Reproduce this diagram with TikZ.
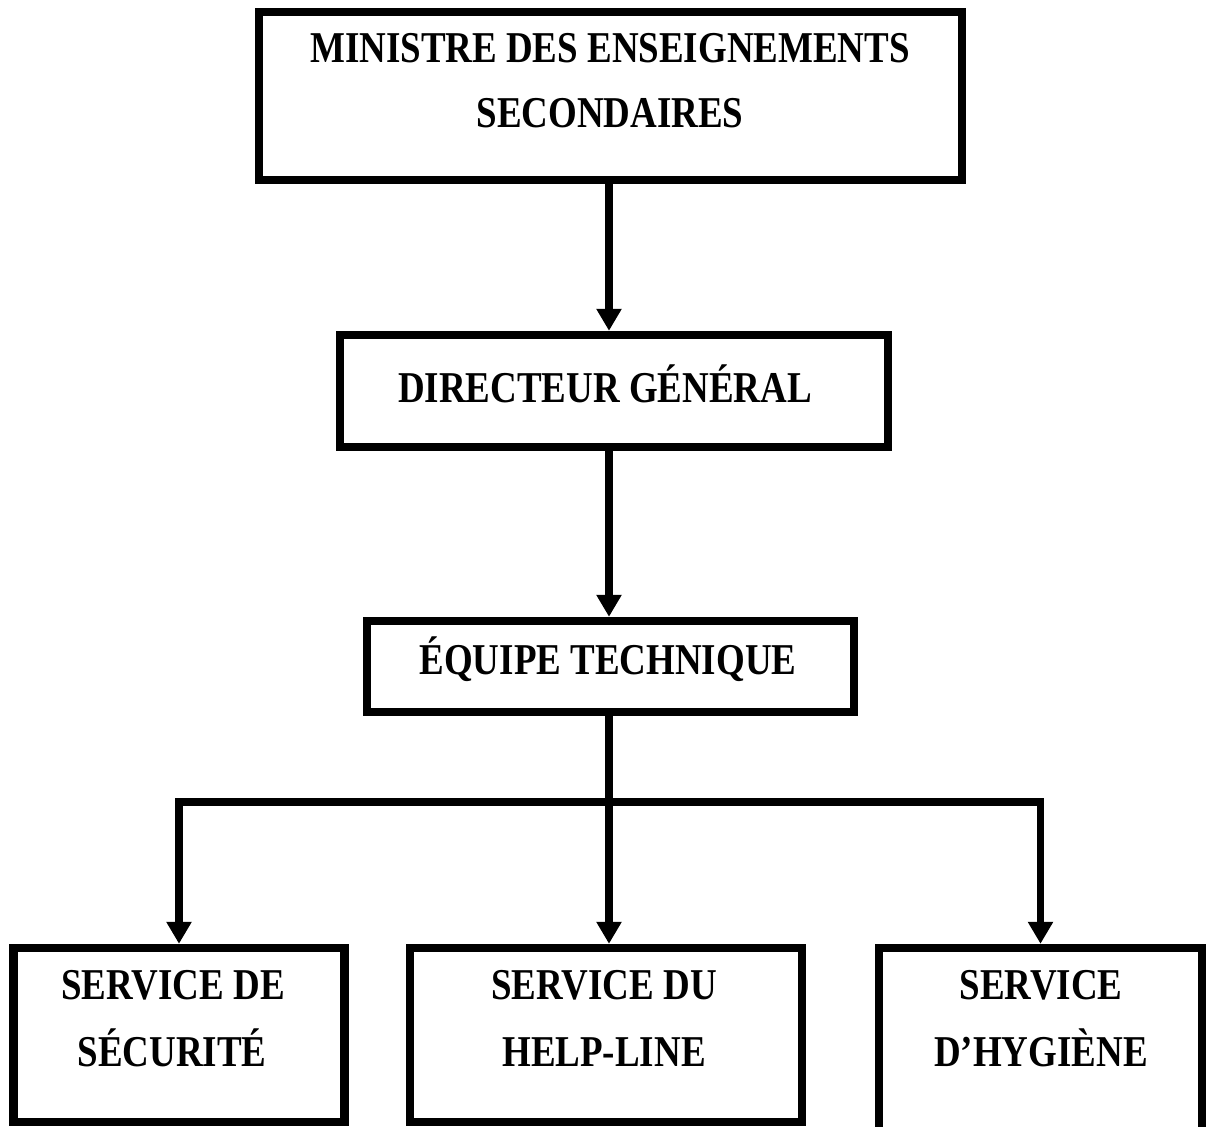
\documentclass[tikz,border=0pt]{standalone}
\usepackage{fontspec}
\setmainfont{Liberation Serif}
\newfontfamily\boxfont[FakeStretch=0.84]{Liberation Serif}
\usetikzlibrary{arrows.meta}
\begin{document}
\begin{tikzpicture}[x=0.5pt,y=-0.5pt,
  box/.style={draw=black, line width=4.2pt, inner sep=0pt, fill=none},
  conn/.style={draw=black, line width=3.6pt},
  tip/.style={-{Triangle[width=12pt,length=11pt]}},
  txt/.style={font=\boxfont\bfseries\fontsize{22}{26}\selectfont, inner sep=0pt, anchor=base}]
\useasboundingbox (0,0) rectangle (1206,1126);
\clip (0,0) rectangle (1206,1126);
% boxes
\node[box, minimum width=351.5pt, minimum height=84pt] (top) at (610.5,96) {};
\node[box, minimum width=274pt, minimum height=56pt] (dg) at (614,391) {};
\node[box, minimum width=243.5pt, minimum height=45.5pt] (et) at (610.5,666.5) {};
\node[box, minimum width=165.5pt, minimum height=87pt] (left) at (179,1035) {};
\node[box, minimum width=196pt, minimum height=87pt] (mid) at (606,1035) {};
\node[box, minimum width=161.5pt, minimum height=117pt] (right) at (1040.5,1065) {};
% texts
\node[txt] (t1) at (610,62) {MINISTRE DES ENSEIGNEMENTS};
\node[txt] (t2) at (610,127) {SECONDAIRES};
\node[txt] (t3) at (605,402) {DIRECTEUR GÉNÉRAL};
\node[txt] (t4) at (608,674) {ÉQUIPE TECHNIQUE};
\node[txt] (t5) at (173,999) {SERVICE DE};
\node[txt] (t6) at (172,1066) {SÉCURITÉ};
\node[txt] (t7) at (604,999) {SERVICE DU};
\node[txt] (t8) at (604,1066) {HELP-LINE};
\node[txt] (t9) at (1041,999) {SERVICE};
\node[txt] (t10) at (1041,1066) {D’HYGIÈNE};
% connectors
\coordinate (spine) at (609,0);
\coordinate (busM) at (609,802);
\draw[conn,tip] (top.south -| spine) -- (dg.north -| spine);
\draw[conn,tip] (dg.south -| spine) -- (et.north -| spine);
\draw[conn,tip] (et.south -| spine) -- (mid.north -| spine);
\draw[conn,tip] (busM) -| (left.north);
\draw[conn,tip] (busM) -| (right.north);
\end{tikzpicture}
\end{document}
